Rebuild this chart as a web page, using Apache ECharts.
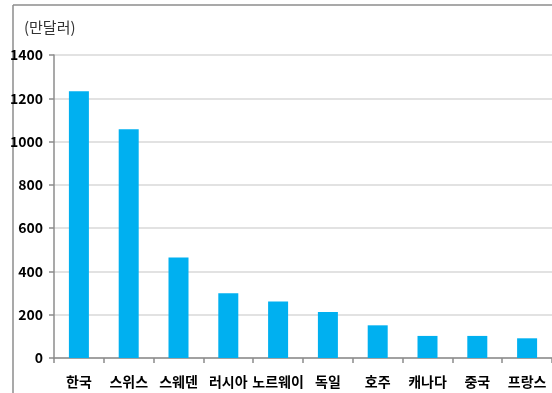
<!DOCTYPE html>
<html>
<head>
<meta charset="utf-8">
<script src="https://cdn.jsdelivr.net/npm/echarts@6/dist/echarts.min.js"></script>
<style>
  html, body { margin: 0; padding: 0; background: #fff; }
  #chart { width: 552px; height: 393px; }
</style>
</head>
<body>
<div id="chart"></div>
<script>
// 국가별 금액 (단위: 만달러)
const countries = ['한국', '스위스', '스웨덴', '러시아', '노르웨이', '독일', '호주', '캐나다', '중국', '프랑스']
const amounts = [1232, 1057, 464, 299, 261, 213, 151, 102, 102, 91]
const yTicks = { min: 0, max: 1400, interval: 200 }
const unitLabel = '(만달러)'

const chart = echarts.init(document.getElementById('chart'))

chart.setOption({
  animation: false,
  graphic: [
    // 바깥 테두리 (왼쪽, 위)
    { type: 'line', shape: { x1: 13, y1: 5, x2: 13, y2: 393 }, style: { stroke: '#8c8c8c', lineWidth: 1.5 } },
    { type: 'line', shape: { x1: 13, y1: 5, x2: 552, y2: 5 }, style: { stroke: '#8c8c8c', lineWidth: 1.5 } },
    {
      type: 'text', left: 24, top: 20,
      style: { text: unitLabel, fontSize: 15, fill: '#333', fontFamily: '"Noto Sans CJK KR", sans-serif' }
    }
  ],
  grid: {
    left: 54,
    right: -7,
    top: 55,
    bottom: 35
  },
  xAxis: {
    type: 'category',
    data: countries,
    axisLine: { lineStyle: { color: '#8c8c8c', width: 1.5 } },
    axisTick: { show: true, length: 5, lineStyle: { color: '#8c8c8c', width: 1.5 } },
    axisLabel: {
      color: '#000',
      fontSize: 14,
      fontWeight: 'bold',
      margin: 17,
      interval: 0,
      fontFamily: '"Noto Sans CJK KR", sans-serif'
    }
  },
  yAxis: {
    type: 'value',
    min: yTicks.min,
    max: yTicks.max,
    interval: yTicks.interval,
    axisLine: { show: true, lineStyle: { color: '#8c8c8c', width: 1.5 } },
    axisTick: { show: true, length: 5, lineStyle: { color: '#8c8c8c', width: 1.5 } },
    axisLabel: {
      color: '#000',
      fontSize: 14,
      fontWeight: 'bold',
      margin: 11,
      formatter: v => String(v),
      fontFamily: '"Noto Sans CJK KR", sans-serif'
    },
    splitLine: { lineStyle: { color: '#d9d9d9', width: 1.5 } }
  },
  series: [
    {
      type: 'bar',
      data: amounts,
      barWidth: 20,
      itemStyle: { color: '#00b0f0' }
    }
  ]
})
</script>
</body>
</html>
